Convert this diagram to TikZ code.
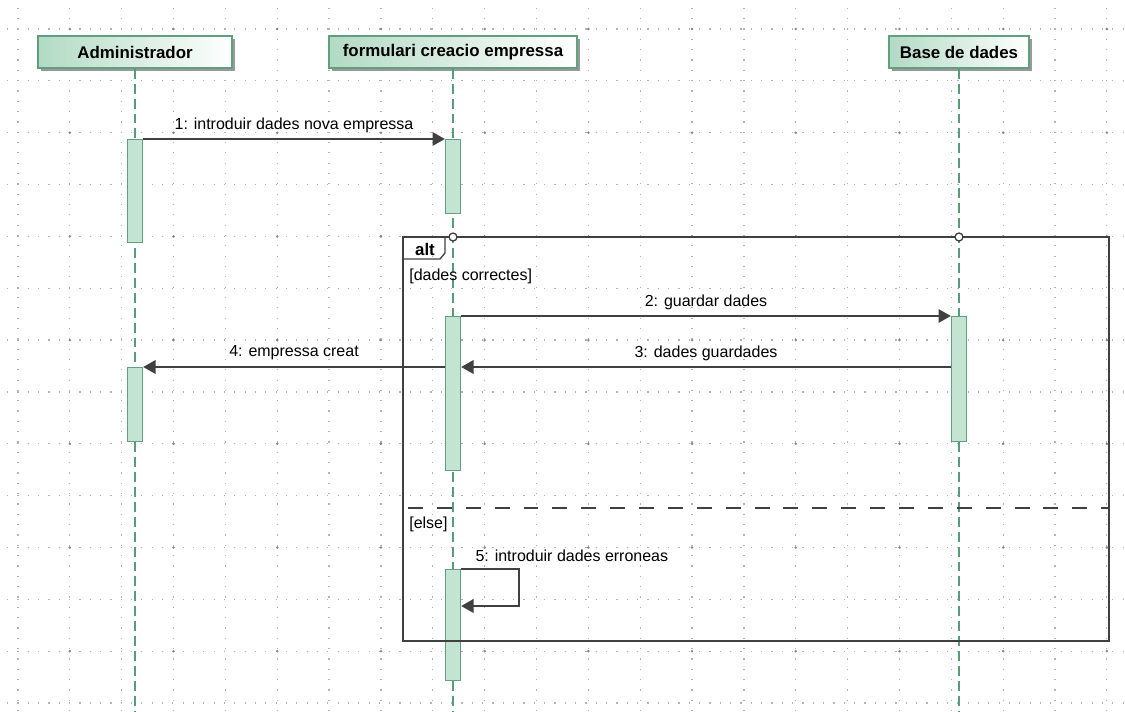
\documentclass[tikz,border=0pt]{standalone}
\usepackage{fontspec}
\setmainfont{Liberation Sans}
\usetikzlibrary{arrows.meta,shadows,calc}
\definecolor{hdrfill}{RGB}{178,218,196}
\definecolor{hdrline}{RGB}{96,160,126}
\definecolor{actfill}{RGB}{196,228,211}
\definecolor{lifegreen}{RGB}{88,156,122}
\definecolor{arrowgray}{RGB}{64,64,64}
\definecolor{dotgray}{RGB}{178,178,178}

\begin{document}
\begin{tikzpicture}[x=0.02cm,y=-0.02cm,
	txt/.style={font=\fontsize{9.1}{11}\selectfont, inner sep=0pt, text=black},
	hdr/.style={draw=hdrline, line width=0.8pt, left color=hdrfill, right color=white, minimum height=0.64cm, inner sep=0pt, font=\fontsize{9.6}{11}\selectfont\bfseries, drop shadow={shadow xshift=0.06cm, shadow yshift=-0.06cm, fill=black!40, opacity=1}},
	act/.style={draw=hdrline, fill=actfill, line width=0.8pt, minimum width=0.3cm, inner sep=0pt, anchor=north},
	life/.style={lifegreen, line width=0.8pt, dash pattern=on 5.67pt off 2.83pt},
	msg/.style={arrowgray, line width=0.7pt, -{Triangle[length=7pt,width=7.8pt]}},
	frame/.style={draw=arrowgray, line width=0.75pt},
	griddots/.style={dotgray, line width=0.7pt, dash pattern=on 0.7pt off 5.179pt}]
				  \useasboundingbox (0,0) rectangle (1125,711);
				  \clip (0,0) rectangle (1125,711);
				  %GRILLE
				  \foreach \i in {0,...,13} \draw[griddots] (-3.35,{29+51.85*\i}) -- (1125,{29+51.85*\i});
				  \foreach \i in {0,...,21} \draw[griddots] ({18+51.85*\i},7.65) -- ({18+51.85*\i},711);
				  \foreach \i in {0,...,10} \foreach \j in {0,...,6} \fill[dotgray!75!black] ({18+51.85*(2*\i+1)},{29+103.7*\j}) circle (0.028cm);
				  %LIFELINES
				  \node[hdr, minimum width=3.88cm] (adm) at (135,52) {Administrador};
				  \node[hdr, minimum width=4.96cm] (frm) at (453,52) {formulari creacio empressa};
				  \node[hdr, minimum width=2.8cm] (bd) at (959,52) {Base de dades};
				  \draw[life] (adm.south) -- (adm.south |- 0,711);
				  \draw[life] (frm.south) -- (frm.south |- 0,711);
				  \draw[life] (bd.south) -- (bd.south |- 0,711);
				  %ACTIVACIONS
				  \node[act, minimum height=2.06cm] (adm1) at (135,139) {};
				  \node[act, minimum height=1.48cm] (frm1) at (453,139) {};
				  \node[act, minimum height=3.08cm] (frm2) at (453,316) {};
				  \node[act, minimum height=1.48cm] (adm2) at (135,367) {};
				  \node[act, minimum height=2.5cm] (bd1) at (959,316) {};
				  \node[act, minimum height=2.22cm] (frm3) at (453,569) {};
				  %ALT
				  \coordinate (altNW) at (403,237);
				  \coordinate (altSE) at (1109,641);
				  \draw[frame] (altNW) rectangle (altSE);
				  \draw[frame] (altNW) ++(42,0) -- ++(0,16) -- ++(-5,6) -- ++(-37,0);
				  \node[font=\fontsize{9.6}{11}\selectfont\bfseries, inner sep=0pt] (alt) at (425,249) {alt};
				  \draw[frame, fill=white] (frm.south |- altNW) circle (0.08cm);
				  \draw[frame, fill=white] (bd.south |- altNW) circle (0.08cm);
				  \draw[frame, dash pattern=on 8.5pt off 7.94pt, dash phase=13.6pt] (altNW |- 0,508) -- (altSE |- 0,508);
				  \node[txt, anchor=west] (ok) at (409,276) {[dades correctes]};
				  \node[txt, anchor=west] (else) at (409,524) {[else]};
				  %MISSATGES
				  \draw[msg] (adm1.north east) -- node[txt, yshift=0.28cm] {1: introduir dades nova empressa} (frm1.north west);
				  \draw[msg] (frm2.north east) -- node[txt, yshift=0.28cm] {2: guardar dades} (bd1.north west);
				  \draw[msg] (bd1.west |- adm2.north) -- node[txt, yshift=0.28cm] {3: dades guardades} (frm2.east |- adm2.north);
				  \draw[msg] (frm2.west |- adm2.north) -- node[txt, yshift=0.28cm] {4: empressa creat} (adm2.north east);
				  \coordinate (selfret) at (519,606);
				  \draw[msg] (frm3.north east) -| (selfret) -- (frm3.east |- selfret);
				  \node[txt, anchor=west] (m5) at ($(frm3.north east)+(14,-13)$) {5: introduir dades erroneas};
\end{tikzpicture}
\end{document}
